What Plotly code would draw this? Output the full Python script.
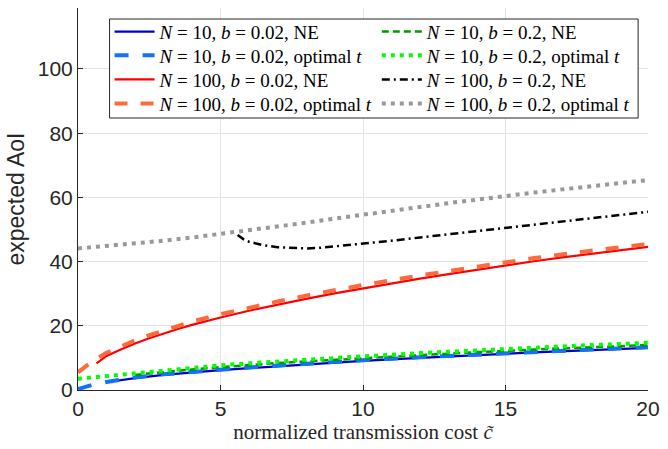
import plotly.graph_objects as go

# ---- data ----
x_b002_N10_ne = [1.3, 1.5, 2, 3, 4, 5, 6, 7, 8, 9, 10, 12, 14, 16, 18, 20]
y_b002_N10_ne = [2.8, 3.1, 3.7, 4.7, 5.5, 6.2, 6.8, 7.4, 8.0, 8.6, 9.1, 10.0, 10.9, 11.7, 12.4, 13.1]

x_b002_N10_opt = [0, 0.5, 1, 1.5, 2, 3, 4, 5, 6, 7, 8, 9, 10, 12, 14, 16, 18, 20]
y_b002_N10_opt = [0.3, 1.6, 2.5, 3.3, 3.9, 4.9, 5.7, 6.4, 7.0, 7.6, 8.2, 8.8, 9.3, 10.2, 11.1, 11.9, 12.6, 13.3]

x_b02_N10_ne = [2, 3, 4, 5, 6, 7, 8, 9, 10, 12, 14, 16, 18, 20]
y_b02_N10_ne = [4.7, 5.6, 6.4, 7.1, 7.8, 8.4, 8.9, 9.4, 9.9, 10.9, 11.8, 12.6, 13.3, 14.0]

x_b02_N10_opt = [0, 1, 2, 3, 4, 5, 6, 7, 8, 9, 10, 12, 14, 16, 18, 20]
y_b02_N10_opt = [3.5, 4.4, 5.3, 6.1, 6.9, 7.7, 8.3, 8.9, 9.5, 10.0, 10.5, 11.5, 12.4, 13.2, 14.0, 14.7]

x_b002_N100_ne = [0.65, 1, 1.5, 2, 2.5, 3, 3.5, 4, 4.5, 5, 6, 7, 8, 9, 10, 11, 12, 13, 14, 15, 16, 17, 18, 19, 20]
y_b002_N100_ne = [8.3, 10.6, 12.6, 14.5, 16.1, 17.6, 19.0, 20.3, 21.5, 22.6, 24.7, 26.6, 28.4, 30.1, 31.7, 33.2, 34.7, 36.1, 37.5, 38.9, 40.1, 41.3, 42.4, 43.5, 44.6]

x_b002_N100_opt = [0, 0.25, 0.5, 1, 1.5, 2, 2.5, 3, 4, 5, 6, 7, 8, 9, 10, 12, 14, 16, 18, 20]
y_b002_N100_opt = [5.5, 7.3, 8.9, 11.6, 13.6, 15.5, 17.1, 18.6, 21.3, 23.6, 25.7, 27.6, 29.4, 31.1, 32.7, 35.7, 38.5, 41.1, 43.4, 45.5]

x_b02_N100_ne = [5.6, 5.8, 6, 6.5, 7, 7.5, 8, 8.5, 9, 10, 11, 12, 13, 14, 15, 16, 17, 18, 19, 20]
y_b02_N100_ne = [48.3, 47.0, 46.2, 45.1, 44.5, 44.2, 44.1, 44.3, 44.7, 45.5, 46.5, 47.5, 48.5, 49.6, 50.6, 51.6, 52.6, 53.6, 54.5, 55.5]

x_b02_N100_opt = [0, 1, 2, 3, 4, 5, 6, 7, 8, 9, 10, 11, 12, 13, 14, 15, 16, 17, 18, 19, 20]
y_b02_N100_opt = [44.1, 44.8, 45.6, 46.5, 47.5, 48.6, 49.7, 50.9, 52.1, 53.4, 54.7, 55.9, 57.0, 58.2, 59.4, 60.5, 61.5, 62.5, 63.5, 64.5, 65.4]

x_ticks = [0, 5, 10, 15, 20]
y_ticks = [0, 20, 40, 60, 80, 100]

S = "\u2005"  # math spacing around '='
def lbl(n, b, kind):
    return f"<i>N</i>{S}={S}{n}, <i>b</i>{S}={S}{b}, {kind}"

# ---- figure geometry (pixels) ----
W, H = 668, 449
ML, MR, MT, MB = 78, 12, 8, 59
PW, PH = W - ML - MR, H - MT - MB

def px_x(p):  # pixel -> paper x
    return (p - ML) / PW

def px_y(p):  # pixel -> paper y
    return (H - MB - p) / PH

fig = go.Figure()

legend_font = dict(family="Liberation Serif, DejaVu Serif, serif", size=19, color="#000000")
col_px = [110, 381]
row_px = [31.7, 55.3, 79.6, 103.7]

legend_layouts = {}
slot = [0]

def add(x, y, name, color, width, dash, col, row):
    slot[0] += 1
    lid = "legend" if slot[0] == 1 else f"legend{slot[0]}"
    fig.add_trace(go.Scatter(x=x, y=y, mode="lines", name=name, legend=lid,
                             line=dict(color=color, width=width, dash=dash)))
    legend_layouts[lid] = dict(
        x=px_x(col_px[col]), y=px_y(row_px[row]), xanchor="left", yanchor="middle",
        bgcolor="rgba(0,0,0,0)", borderwidth=0, font=legend_font, itemwidth=40,
    )

add(x_b002_N10_ne, y_b002_N10_ne, lbl(10, "0.02", "NE"), "#0000C8", 2.2, "solid", 0, 0)
add(x_b002_N10_opt, y_b002_N10_opt, lbl(10, "0.02", "optimal <i>t</i>"), "#1470FF", 4, "14px,14px", 0, 1)
add(x_b02_N10_ne, y_b02_N10_ne, lbl(10, "0.2", "NE"), "#009A00", 2.5, "7px,4px", 1, 0)
add(x_b02_N10_opt, y_b02_N10_opt, lbl(10, "0.2", "optimal <i>t</i>"), "#00FF00", 4, "4px,5px", 1, 1)
add(x_b002_N100_ne, y_b002_N100_ne, lbl(100, "0.02", "NE"), "#FF0000", 2.2, "solid", 0, 2)
add(x_b002_N100_opt, y_b002_N100_opt, lbl(100, "0.02", "optimal <i>t</i>"), "#FF6A3D", 4, "13px,13px", 0, 3)
add(x_b02_N100_ne, y_b02_N100_ne, lbl(100, "0.2", "NE"), "#000000", 2.5, "8px,4px,2px,4px", 1, 2)
add(x_b02_N100_opt, y_b02_N100_opt, lbl(100, "0.2", "optimal <i>t</i>"), "#999999", 4, "4px,5px", 1, 3)

axis_common = dict(
    showline=True, linecolor="#262626", linewidth=1,
    ticks="inside", ticklen=5, tickcolor="#262626",
    showgrid=True, gridcolor="#E3E3E3", gridwidth=1,
    zeroline=False,
    tickfont=dict(family="Liberation Sans, Arial, sans-serif", size=21, color="#262626"),
)

fig.update_xaxes(range=[0, 20], tickvals=x_ticks, **axis_common,
                 title=dict(text="normalized transmission cost <i>c\u0303</i>",
                            font=dict(family="Liberation Serif, DejaVu Serif, serif", size=21, color="#262626"),
                            standoff=2))
fig.update_yaxes(range=[0, 119], tickvals=y_ticks, **axis_common,
                 title=dict(text="expected AoI",
                            font=dict(family="Liberation Sans, Arial, sans-serif", size=23, color="#262626"),
                            standoff=6))

# legend frame
fig.add_shape(type="rect", xref="paper", yref="paper",
              x0=px_x(110), x1=px_x(646), y0=px_y(118), y1=px_y(19),
              line=dict(color="#262626", width=1), fillcolor="white", layer="above")

fig.update_layout(
    width=W, height=H,
    margin=dict(l=ML, r=MR, t=MT, b=MB),
    plot_bgcolor="white", paper_bgcolor="white",
    showlegend=True,
    **legend_layouts,
)

fig.write_html("out.html")
